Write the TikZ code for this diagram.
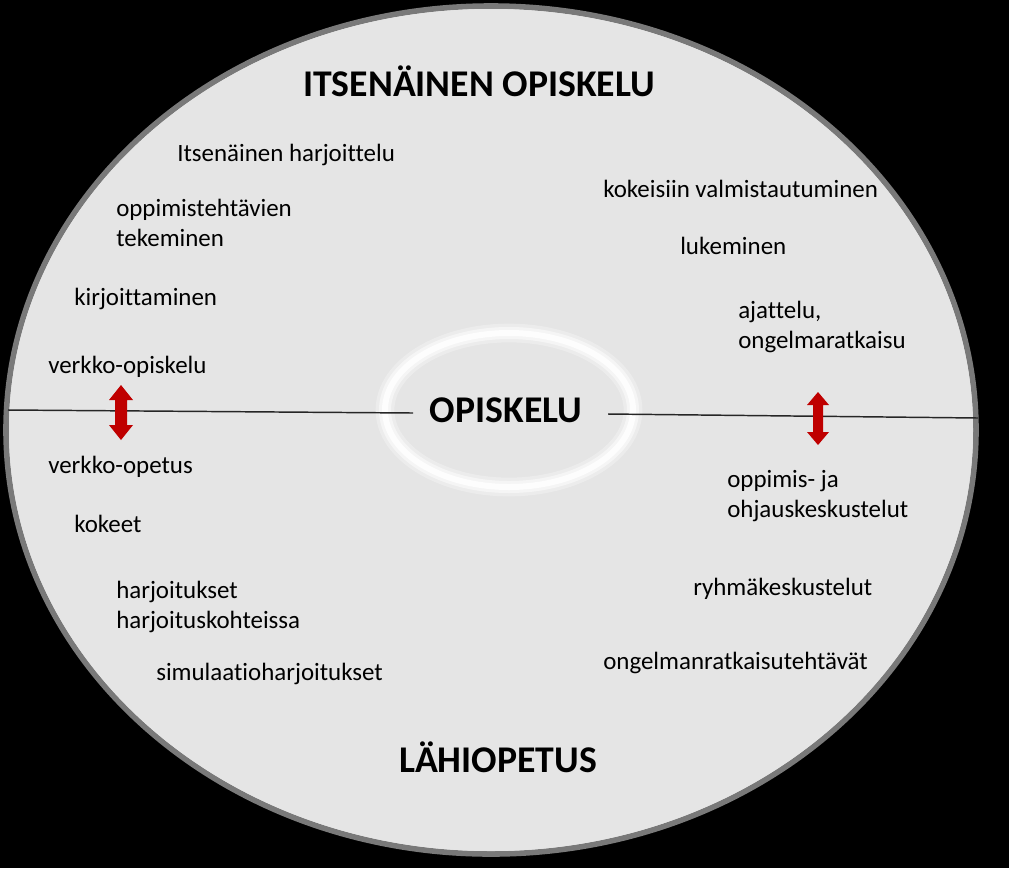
\documentclass[tikz,border=0pt]{standalone}
\usepackage{fontspec}
\setmainfont{Carlito}[Ligatures=NoCommon]
\begin{document}
\begin{tikzpicture}[x=0.75pt,y=-0.75pt,
  item/.style={anchor=west,inner sep=0pt,font=\fontsize{18.7}{22.5}\selectfont,align=left,text=black},
  title/.style={inner sep=0pt,font=\fontsize{28.3}{34}\selectfont\bfseries,text=black},
  divider/.style={draw=black!85,line width=1.1pt},
  redarrow/.style={fill=red!75!black,draw=none}]
\useasboundingbox (0,0) rectangle (1009,868);
\fill[black] (0,0) rectangle (1009,868);
% main ellipse
\fill[black!10] (491,430) ellipse [x radius=485,y radius=424];
\draw[gray!95!black,line width=4.2pt] (491,430) ellipse [x radius=485,y radius=424];
\fill[black!10] (491,430) ellipse [x radius=482,y radius=421];
% inner glow ring
\draw[white,opacity=0.3,line width=14pt] (509,410) ellipse [x radius=124,y radius=77];
\draw[white,opacity=0.5,line width=9pt] (509,410) ellipse [x radius=124,y radius=77];
\draw[white,opacity=0.8,line width=4.5pt] (509,410) ellipse [x radius=124,y radius=77];
% center
\node[title] (center) at (506,410) {OPISKELU};
\coordinate (lL) at (8,410);
\coordinate (lR) at (413,413);
\coordinate (rL) at (608,414);
\coordinate (rR) at (978,418);
\draw[divider] (lL) -- (lR);
\draw[divider] (rL) -- (rR);
% red double arrows
\fill[redarrow] (121,385) -- (133,400) -- (127,400) -- (127,425) -- (133,425) -- (121,440) -- (109,425) -- (115,425) -- (115,400) -- (109,400) -- cycle;
\fill[redarrow] (818,392) -- (829,405) -- (823,405) -- (823,432) -- (829,432) -- (818,445) -- (807,432) -- (813,432) -- (813,405) -- (807,405) -- cycle;
% titles
\node[title] (top) at (479,81) {ITSENÄINEN OPISKELU};
\node[title] (bottom) at (498,757) {LÄHIOPETUS};
% left upper
\node[item] (a1) at (177,155) {Itsenäinen harjoittelu};
\node[item] (a2) at (116,223) {oppimistehtävien\\tekeminen};
\node[item] (a3) at (74,299) {kirjoittaminen};
\node[item] (a4) at (48,367) {verkko-opiskelu};
% left lower
\node[item] (b1) at (48,467) {verkko-opetus};
\node[item] (b2) at (74,524) {kokeet};
\node[item] (b3) at (116,607) {harjoitukset\\harjoituskohteissa};
\node[item] (b4) at (156,674) {simulaatioharjoitukset};
% right upper
\node[item] (c1) at (603,189) {kokeisiin valmistautuminen};
\node[item] (c2) at (680,246) {lukeminen};
\node[item] (c3) at (738,327) {ajattelu,\\ongelmaratkaisu};
% right lower
\node[item] (d1) at (727,496) {oppimis- ja\\ohjauskeskustelut};
\node[item] (d2) at (693,589) {ryhmäkeskustelut};
\node[item] (d3) at (603,663) {ongelmanratkaisutehtävät};
\end{tikzpicture}
\end{document}
